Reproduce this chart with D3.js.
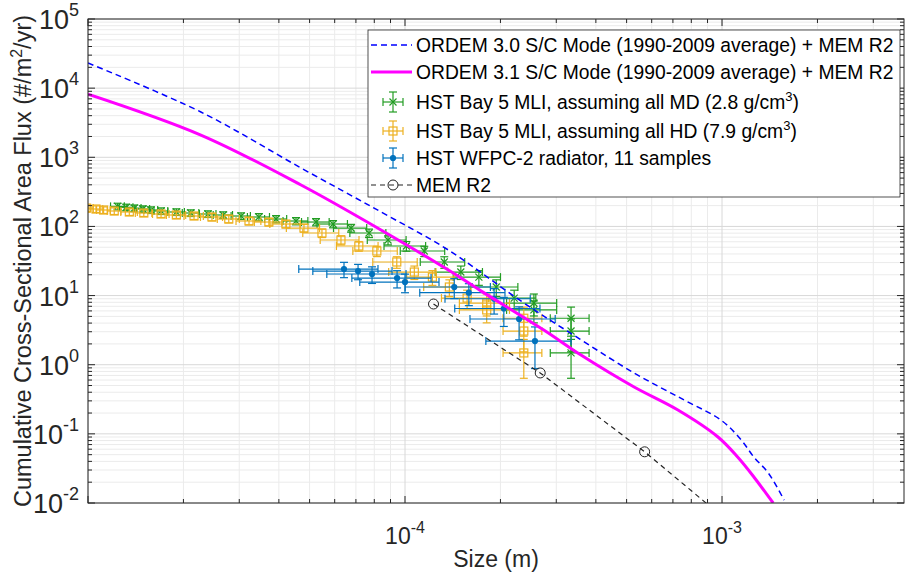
<!DOCTYPE html>
<html>
<head>
<meta charset="utf-8">
<script src="https://cdn.jsdelivr.net/npm/d3@7"></script>
<style>
  body { margin: 0; background: #fff; }
  svg { display: block; font-family: "Liberation Sans", Arial, Helvetica, sans-serif; }
</style>
</head>
<body>
<div id="chart"></div>
<script>
// ORDEM 3.0 S/C mode + MEM R2 (blue dashed)
var ordem30Size = [1e-5, 2.27e-5, 4.7e-5, 8.4e-5, 1.37e-4, 2.32e-4, 3.56e-4, 5.28e-4, 7.59e-4, 9.93e-4, 1.15e-3, 1.26e-3, 1.40e-3, 1.57e-3];
var ordem30Flux = [2.31e4, 4.52e3, 700, 162, 45.6, 8.35, 2.35, 0.759, 0.309, 0.158, 0.0815, 0.0462, 0.0271, 0.011];

// ORDEM 3.1 S/C mode + MEM R2 (magenta)
var ordem31Size = [1e-5, 2.27e-5, 4.7e-5, 8.4e-5, 1.37e-4, 1.74e-4, 2.74e-4, 3.59e-4, 5.28e-4, 7.26e-4, 9.71e-4, 1.12e-3, 1.26e-3, 1.45e-3];
var ordem31Flux = [8.2e3, 2.1e3, 397, 88.8, 23.4, 11.6, 3.18, 1.38, 0.476, 0.221, 0.09, 0.0462, 0.0238, 0.01];

// MEM R2 alone
var memSize = [1.23e-4, 2.67e-4, 5.7e-4, 1.22e-3];
var memFlux = [7.55, 0.76, 0.055, 0.003];

// HST Bay 5 MLI, cumulative flux (same counts for both density assumptions)
var bay5Flux = [195, 189, 184, 178.6, 172.8, 167.1, 161.8, 156.4, 151.3, 146.3, 141.5, 136.9, 128.0, 119.8, 115.8, 108.4, 94.8,
                80.3, 63.6, 52.1, 44.1, 30.6, 21.9, 18.5, 13.3, 9.2, 7.8, 6.2, 4.7, 3.07, 1.48];
var bay5SizeMD = [1.24e-5, 1.32e-5, 1.40e-5, 1.49e-5, 1.58e-5, 1.70e-5, 1.90e-5, 2.11e-5, 2.39e-5, 2.67e-5, 3.04e-5, 3.46e-5, 3.92e-5, 4.53e-5, 5.24e-5, 5.93e-5, 6.76e-5,
                  7.70e-5, 8.84e-5, 1.01e-4, 1.15e-4, 1.33e-4, 1.50e-4, 1.71e-4, 1.94e-4, 2.21e-4, 2.55e-4, 2.55e-4, 3.34e-4, 3.34e-4, 3.34e-4];
var bay5SizeHD = [8.8e-6, 9.4e-6, 9.9e-6, 1.06e-5, 1.12e-5, 1.21e-5, 1.35e-5, 1.50e-5, 1.70e-5, 1.90e-5, 2.16e-5, 2.46e-5, 2.78e-5, 3.22e-5, 3.72e-5, 4.21e-5, 4.80e-5,
                  5.47e-5, 6.28e-5, 7.15e-5, 8.15e-5, 9.42e-5, 1.07e-4, 1.22e-4, 1.38e-4, 1.57e-4, 1.81e-4, 1.81e-4, 2.37e-4, 2.37e-4, 2.37e-4];
// relative (fractional) errors
var bay5SizeErr = [0.05, 0.05, 0.05, 0.05, 0.05, 0.05, 0.06, 0.06, 0.06, 0.07, 0.07, 0.08, 0.08, 0.09, 0.10, 0.11, 0.12,
                   0.13, 0.14, 0.15, 0.16, 0.16, 0.17, 0.17, 0.17, 0.17, 0.18, 0.18, 0.14, 0.14, 0.14];
var bay5FluxErr = [0.11, 0.11, 0.11, 0.11, 0.11, 0.11, 0.11, 0.11, 0.11, 0.11, 0.11, 0.12, 0.12, 0.12, 0.12, 0.12, 0.13,
                   0.14, 0.15, 0.16, 0.17, 0.19, 0.22, 0.24, 0.27, 0.30, 0.35, 0.35, 0.45, 0.50, 0.57];

// HST WFPC-2 radiator, 11 samples
var wfpcSize = [6.42e-5, 7.11e-5, 7.87e-5, 9.44e-5, 1.0e-4, 1.43e-4, 1.59e-4, 1.91e-4, 2.05e-4, 2.29e-4, 2.57e-4];
var wfpcFlux = [24.2, 22.6, 20.5, 17.9, 15.7, 13.3, 11.0, 9.0, 6.5, 4.58, 2.2];
var wfpcSizeErr = [0.28, 0.28, 0.28, 0.28, 0.28, 0.30, 0.30, 0.30, 0.30, 0.30, 0.30];
var wfpcFluxErr = [0.25, 0.25, 0.27, 0.28, 0.30, 0.32, 0.35, 0.40, 0.45, 0.50, 0.60];

var legendLabels = [
  "ORDEM 3.0 S/C Mode (1990-2009 average) + MEM R2",
  "ORDEM 3.1 S/C Mode (1990-2009 average) + MEM R2",
  "HST Bay 5 MLI, assuming all MD (2.8 g/cm|3|)",
  "HST Bay 5 MLI, assuming all HD (7.9 g/cm|3|)",
  "HST WFPC-2 radiator, 11 samples",
  "MEM R2"
];
var xTickExp = [-4, -3];
var yTickExp = [-2, -1, 0, 1, 2, 3, 4, 5];

var W = 905, H = 575;
var pl = 88, pr = 904, pt = 19, pb = 503;
var axisColor = "#262626";
var cBlue = "#0000ff", cMag = "#ff00ff", cGreen = "#229c22", cOrange = "#edb120", cWfpc = "#0072bd";

var svg = d3.select("#chart").append("svg")
  .attr("width", W).attr("height", H);

svg.append("rect").attr("width", W).attr("height", H).attr("fill", "#fff");

var x = d3.scaleLog().domain([1e-5, 3.75e-3]).range([pl, pr]);
var y = d3.scaleLog().domain([1e-2, 1e5]).range([pb, pt]);

// grid values
var xMinor = [], xMajor = [], yMinor = [], yMajor = [];
[-5, -4, -3].forEach(function(e) {
  for (var k = 1; k <= 9; k++) {
    var v = k * Math.pow(10, e);
    if (v < 1e-5 * 0.999 || v > 3.75e-3) continue;
    if (k == 1) xMajor.push(v); else xMinor.push(v);
  }
});
[-2, -1, 0, 1, 2, 3, 4, 5].forEach(function(e) {
  for (var k = 1; k <= 9; k++) {
    var v = k * Math.pow(10, e);
    if (v > 1e5 * 1.001) continue;
    if (k == 1) yMajor.push(v); else yMinor.push(v);
  }
});

var grid = svg.append("g");
grid.selectAll(".gxm").data(xMinor).enter().append("line")
  .attr("x1", function(d) { return x(d); }).attr("x2", function(d) { return x(d); })
  .attr("y1", pt).attr("y2", pb)
  .attr("stroke", "#ebebeb").attr("stroke-width", 1);
grid.selectAll(".gym").data(yMinor).enter().append("line")
  .attr("y1", function(d) { return y(d); }).attr("y2", function(d) { return y(d); })
  .attr("x1", pl).attr("x2", pr)
  .attr("stroke", "#ebebeb").attr("stroke-width", 1);
grid.selectAll(".gxM").data(xMajor).enter().append("line")
  .attr("x1", function(d) { return x(d); }).attr("x2", function(d) { return x(d); })
  .attr("y1", pt).attr("y2", pb)
  .attr("stroke", "#d8d8d8").attr("stroke-width", 1);
grid.selectAll(".gyM").data(yMajor).enter().append("line")
  .attr("y1", function(d) { return y(d); }).attr("y2", function(d) { return y(d); })
  .attr("x1", pl).attr("x2", pr)
  .attr("stroke", "#d8d8d8").attr("stroke-width", 1);

// clip to the axes box
svg.append("clipPath").attr("id", "plotclip").append("rect")
  .attr("x", pl).attr("y", pt).attr("width", pr - pl).attr("height", pb - pt);
var plot = svg.append("g").attr("clip-path", "url(#plotclip)");

function pairs(xs, ys) {
  return xs.map(function(v, i) { return [v, ys[i]]; });
}
var line = d3.line()
  .x(function(d) { return x(d[0]); })
  .y(function(d) { return y(d[1]); });
var smooth = d3.line().curve(d3.curveCatmullRom.alpha(0.5))
  .x(function(d) { return x(d[0]); })
  .y(function(d) { return y(d[1]); });

// error bar series
function errorSeries(g, sx, sy, ex, ey, color, marker) {
  var cap = 4;
  var pts = sx.map(function(v, i) {
    return { x: v, y: sy[i], xlo: v * (1 - ex[i]), xhi: v * (1 + ex[i]), ylo: sy[i] * (1 - ey[i]), yhi: sy[i] * (1 + ey[i]) };
  });
  var s = g.append("g").attr("stroke", color).attr("fill", "none").attr("stroke-width", 1.2);
  pts.forEach(function(p) {
    var cx = x(p.x), cy = y(p.y);
    s.append("line").attr("x1", x(p.xlo)).attr("x2", x(p.xhi)).attr("y1", cy).attr("y2", cy);
    s.append("line").attr("x1", x(p.xlo)).attr("x2", x(p.xlo)).attr("y1", cy - cap).attr("y2", cy + cap);
    s.append("line").attr("x1", x(p.xhi)).attr("x2", x(p.xhi)).attr("y1", cy - cap).attr("y2", cy + cap);
    s.append("line").attr("x1", cx).attr("x2", cx).attr("y1", y(p.ylo)).attr("y2", y(p.yhi));
    s.append("line").attr("x1", cx - cap).attr("x2", cx + cap).attr("y1", y(p.ylo)).attr("y2", y(p.ylo));
    s.append("line").attr("x1", cx - cap).attr("x2", cx + cap).attr("y1", y(p.yhi)).attr("y2", y(p.yhi));
    drawMarker(s, cx, cy, marker, color);
  });
}

function drawMarker(g, cx, cy, marker, color) {
  if (marker == "x") {
    g.append("path").attr("d", "M" + (cx - 3.5) + "," + (cy - 3.5) + "L" + (cx + 3.5) + "," + (cy + 3.5) +
      "M" + (cx - 3.5) + "," + (cy + 3.5) + "L" + (cx + 3.5) + "," + (cy - 3.5));
  } else if (marker == "s") {
    g.append("rect").attr("x", cx - 4).attr("y", cy - 4).attr("width", 8).attr("height", 8);
  } else if (marker == "dot") {
    g.append("circle").attr("cx", cx).attr("cy", cy).attr("r", 2.5).attr("fill", color);
  } else if (marker == "o") {
    g.append("circle").attr("cx", cx).attr("cy", cy).attr("r", 5).attr("fill", "none");
  }
}

errorSeries(plot, bay5SizeMD, bay5Flux, bay5SizeErr, bay5FluxErr, cGreen, "x");
errorSeries(plot, bay5SizeHD, bay5Flux, bay5SizeErr, bay5FluxErr, cOrange, "s");
errorSeries(plot, wfpcSize, wfpcFlux, wfpcSizeErr, wfpcFluxErr, cWfpc, "dot");

plot.append("path").datum(pairs(ordem31Size, ordem31Flux))
  .attr("d", smooth).attr("fill", "none").attr("stroke", cMag).attr("stroke-width", 3);
plot.append("path").datum(pairs(ordem30Size, ordem30Flux))
  .attr("d", smooth).attr("fill", "none").attr("stroke", cBlue).attr("stroke-width", 1.5)
  .attr("stroke-dasharray", "6,4");

var mem = plot.append("g").attr("stroke", "#222").attr("fill", "none");
mem.append("path").datum(pairs(memSize, memFlux))
  .attr("d", line).attr("stroke-width", 1.2).attr("stroke-dasharray", "5,4");
pairs(memSize, memFlux).forEach(function(d) {
  drawMarker(mem, x(d[0]), y(d[1]), "o", "#222");
});

// axes box with inward ticks on all sides
var ax = svg.append("g").attr("stroke", axisColor).attr("stroke-width", 1);
ax.append("rect").attr("x", pl).attr("y", pt).attr("width", pr - pl).attr("height", pb - pt)
  .attr("fill", "none");
function xTicks(vals, len) {
  vals.forEach(function(v) {
    var px = x(v);
    ax.append("line").attr("x1", px).attr("x2", px).attr("y1", pb).attr("y2", pb - len);
    ax.append("line").attr("x1", px).attr("x2", px).attr("y1", pt).attr("y2", pt + len);
  });
}
function yTicks(vals, len) {
  vals.forEach(function(v) {
    var py = y(v);
    ax.append("line").attr("y1", py).attr("y2", py).attr("x1", pl).attr("x2", pl + len);
    ax.append("line").attr("y1", py).attr("y2", py).attr("x1", pr).attr("x2", pr - len);
  });
}
xTicks(xMinor, 4); xTicks(xMajor, 7);
yTicks(yMinor, 4); yTicks(yMajor, 7);

// tick labels
xTickExp.forEach(function(e) {
  var t = svg.append("text").attr("x", x(Math.pow(10, e))).attr("y", 544)
    .attr("text-anchor", "middle").attr("fill", axisColor).style("font-size", "23px");
  t.append("tspan").text("10");
  t.append("tspan").attr("dy", -11).style("font-size", "16px").text(String(e));
});
yTickExp.forEach(function(e) {
  var t = svg.append("text").attr("x", 79).attr("y", y(Math.pow(10, e)) + 10)
    .attr("text-anchor", "end").attr("fill", axisColor).style("font-size", "27px");
  t.append("tspan").text("10");
  t.append("tspan").attr("dy", -13).style("font-size", "18px").text(String(e));
});

// axis labels
svg.append("text").attr("x", (pl + pr) / 2).attr("y", 567).attr("text-anchor", "middle")
  .attr("fill", axisColor).style("font-size", "23px").text("Size (m)");
var yl = svg.append("text").attr("transform", "translate(31," + ((pt + pb) / 2) + ") rotate(-90)")
  .attr("text-anchor", "middle").attr("fill", axisColor).style("font-size", "23.5px");
yl.append("tspan").text("Cumulative Cross-Sectional Area Flux (#/m");
yl.append("tspan").attr("dy", -9).style("font-size", "16px").text("2");
yl.append("tspan").attr("dy", 9).text("/yr)");

// legend
var lg = svg.append("g");
lg.append("rect").attr("x", 368).attr("y", 30).attr("width", 532).attr("height", 167)
  .attr("fill", "#fff").attr("stroke", axisColor).attr("stroke-width", 0.8);
var rowY = [45, 72, 102, 131, 158, 185];
legendLabels.forEach(function(lbl, i) {
  var cy = rowY[i];
  var t = lg.append("text").attr("x", 416).attr("y", cy + 7).attr("fill", "#000").style("font-size", "19.3px");
  var parts = lbl.split("|");
  t.append("tspan").text(parts[0]);
  if (parts.length > 1) {
    t.append("tspan").attr("dy", -8).style("font-size", "13px").text(parts[1]);
    t.append("tspan").attr("dy", 8).text(parts[2]);
  }
});
lg.append("line").attr("x1", 371).attr("x2", 412).attr("y1", rowY[0]).attr("y2", rowY[0])
  .attr("stroke", cBlue).attr("stroke-width", 1.5).attr("stroke-dasharray", "6,4");
lg.append("line").attr("x1", 371).attr("x2", 412).attr("y1", rowY[1]).attr("y2", rowY[1])
  .attr("stroke", cMag).attr("stroke-width", 3);
[[cGreen, "x"], [cOrange, "s"], [cWfpc, "dot"]].forEach(function(c, i) {
  var cy = rowY[i + 2], cx = 393;
  var s = lg.append("g").attr("stroke", c[0]).attr("fill", "none").attr("stroke-width", 1.2);
  s.append("line").attr("x1", cx - 10).attr("x2", cx + 10).attr("y1", cy).attr("y2", cy);
  s.append("line").attr("x1", cx - 10).attr("x2", cx - 10).attr("y1", cy - 4).attr("y2", cy + 4);
  s.append("line").attr("x1", cx + 10).attr("x2", cx + 10).attr("y1", cy - 4).attr("y2", cy + 4);
  s.append("line").attr("x1", cx).attr("x2", cx).attr("y1", cy - 10).attr("y2", cy + 10);
  s.append("line").attr("x1", cx - 4).attr("x2", cx + 4).attr("y1", cy - 10).attr("y2", cy - 10);
  s.append("line").attr("x1", cx - 4).attr("x2", cx + 4).attr("y1", cy + 10).attr("y2", cy + 10);
  drawMarker(s, cx, cy, c[1], c[0]);
});
var lm = lg.append("g").attr("stroke", "#222").attr("fill", "none");
lm.append("line").attr("x1", 371).attr("x2", 412).attr("y1", rowY[5]).attr("y2", rowY[5])
  .attr("stroke-width", 1.2).attr("stroke-dasharray", "5,4");
drawMarker(lm, 393, rowY[5], "o", "#222");
</script>
</body>
</html>
